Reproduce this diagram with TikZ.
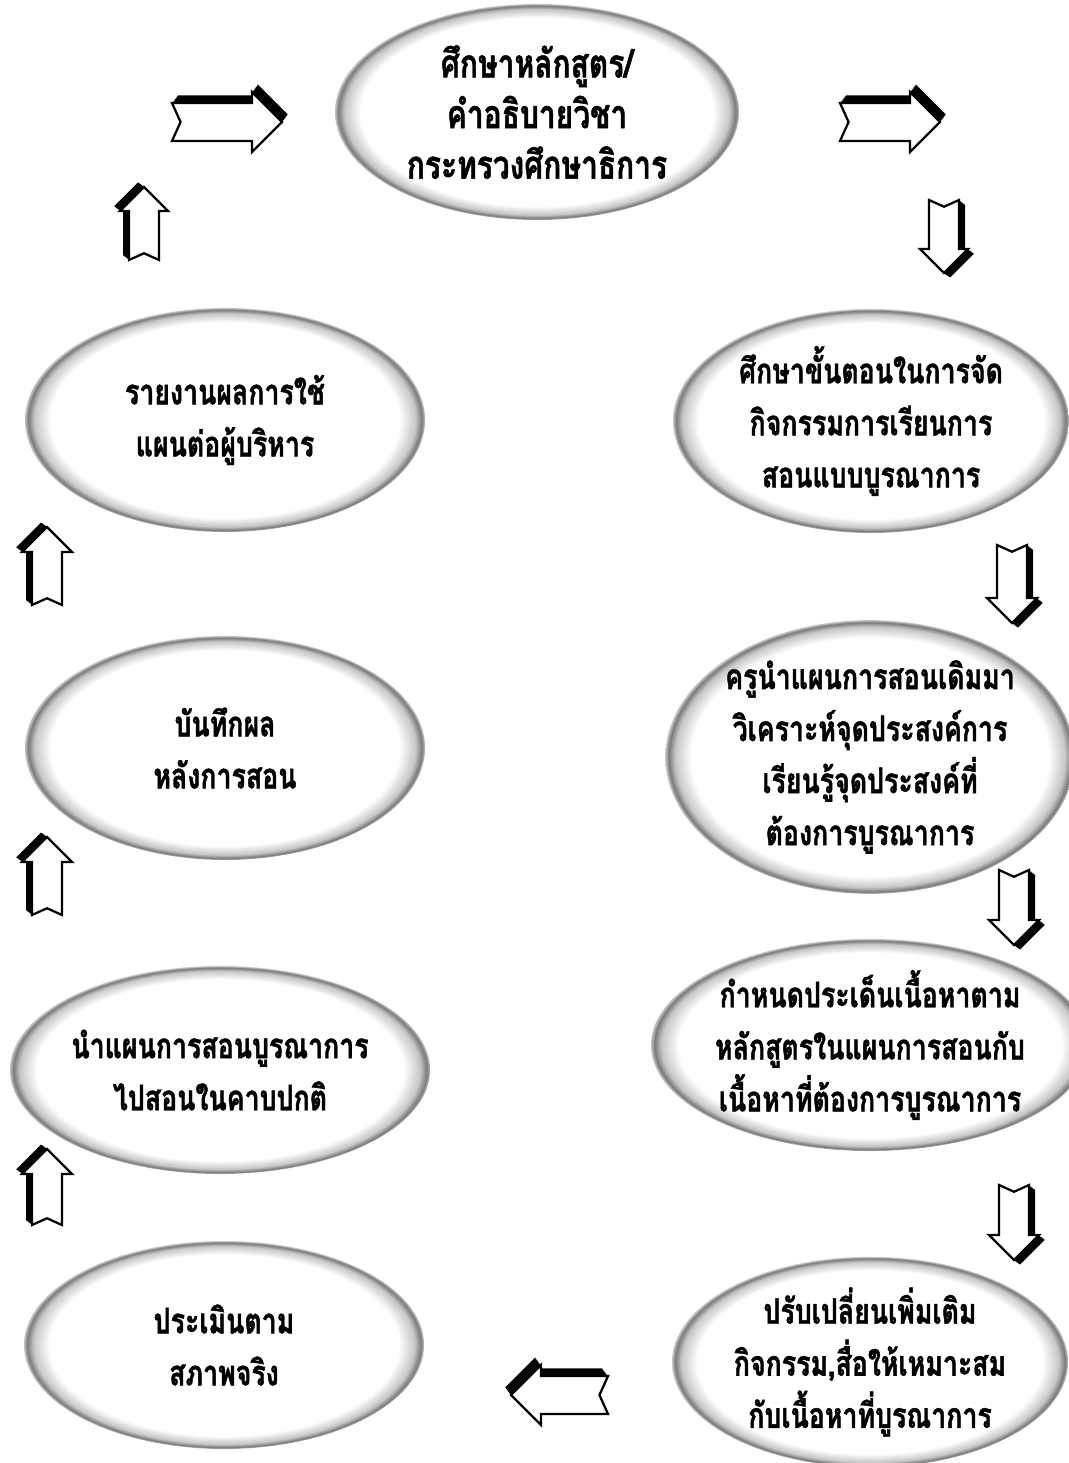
\documentclass[tikz,border=0pt]{standalone}
\usepackage{fontspec}
\newfontfamily\thaifont[Script=Thai,FakeStretch=0.76,BoldFeatures={FakeBold=1.2}]{Loma}
\usetikzlibrary{shapes.geometric}

\pgfdeclareradialshading{ovalshade}{\pgfpoint{0bp}{0bp}}{color(0bp)=(white); color(21.8bp)=(white); color(23.8bp)=(black!22); color(24.6bp)=(black!52); color(25bp)=(black!22); color(50bp)=(white)}

\tikzset{
  oval/.style={ellipse, shading=ovalshade, inner sep=0pt, align=center, minimum width=10cm, minimum height=5.5cm,
    font=\thaifont\bfseries\fontsize{25}{37}\selectfont},
  pics/flowarrow/.style n args={3}{code={
    \foreach \s in {0.1,0.2,...,1}
      \fill[black, shift={(0.3*#3*\s,-0.4*#3*\s)}] (0,-#3) -- (#1-#2,-#3) -- (#1-#2,-#2) -- (#1,0) -- (#1-#2,#2) -- (#1-#2,#3) -- (0,#3) -- (0.45*#3,0) -- cycle;
    \draw[fill=white, line width=1.6pt, line join=miter] (0,-#3) -- (#1-#2,-#3) -- (#1-#2,-#2) -- (#1,0) -- (#1-#2,#2) -- (#1-#2,#3) -- (0,#3) -- (0.45*#3,0) -- cycle;
  }}
}

\begin{document}
\begin{tikzpicture}[x=0.025cm, y=-0.025cm]
  \useasboundingbox (0,0) rectangle (1068,1463);
  \node (study) [oval, minimum width=10.1cm, minimum height=5.4cm, font=\thaifont\bfseries\fontsize{28}{36}\selectfont] at (537,112) {ศึกษาหลักสูตร/\\คำอธิบายวิชา\\กระทรวงศึกษาธิการ};
  \node (steps) [oval, minimum width=9.9cm, minimum height=5.6cm] at (871,421) {ศึกษาขั้นตอนในการจัด\\กิจกรรมการเรียนการ\\สอนแบบบูรณาการ};
  \node (analyse) [oval, minimum width=9.9cm, minimum height=6.3cm] at (870,757) {ครูนำแผนการสอนเดิมมา\\วิเคราะห์จุดประสงค์การ\\เรียนรู้จุดประสงค์ที่\\ต้องการบูรณาการ};
  \node (content) [oval, minimum width=9.9cm, minimum height=5.1cm] at (870,1045) {กำหนดประเด็นเนื้อหาตาม\\หลักสูตรในแผนการสอนกับ\\เนื้อหาที่ต้องการบูรณาการ};
  \node (adapt) [oval, minimum width=9.9cm, minimum height=5cm] at (870,1362) {ปรับเปลี่ยนเพิ่มเติม\\กิจกรรม,สื่อให้เหมาะสม\\กับเนื้อหาที่บูรณาการ};
  \node (assess) [oval, minimum width=10cm, minimum height=5.2cm] at (224,1345) {ประเมินตาม\\สภาพจริง};
  \node (teach) [oval, minimum width=9.9cm, minimum height=5.2cm] at (220,1070) {นำแผนการสอนบูรณาการ\\ไปสอนในคาบปกติ};
  \node (record) [oval, minimum width=10cm, minimum height=5.6cm] at (225,748) {บันทึกผล\\หลังการสอน};
  \node (report) [oval, minimum width=10cm, minimum height=5.6cm] at (225,420) {รายงานผลการใช้\\แผนต่อผู้บริหาร};
  \pic at (172,122) {flowarrow={110}{30}{19}};
  \pic at (840,122) {flowarrow={100}{30}{19}};
  \pic[rotate=-90] at (944,200) {flowarrow={73}{24}{15}};
  \pic[rotate=-90] at (1012,545) {flowarrow={78}{25}{15}};
  \pic[rotate=-90] at (1014,870) {flowarrow={75}{25}{15}};
  \pic[rotate=-90] at (1014,1185) {flowarrow={75}{25}{15}};
  \pic[xscale=-1] at (608,1395) {flowarrow={97}{30}{19}};
  \pic[rotate=90] at (47,605) {flowarrow={78}{25}{15}};
  \pic[rotate=90] at (47,915) {flowarrow={78}{25}{15}};
  \pic[rotate=90] at (47,1225) {flowarrow={76}{25}{15}};
  \pic[rotate=90] at (144,260) {flowarrow={73}{24}{15}};
\end{tikzpicture}
\end{document}
